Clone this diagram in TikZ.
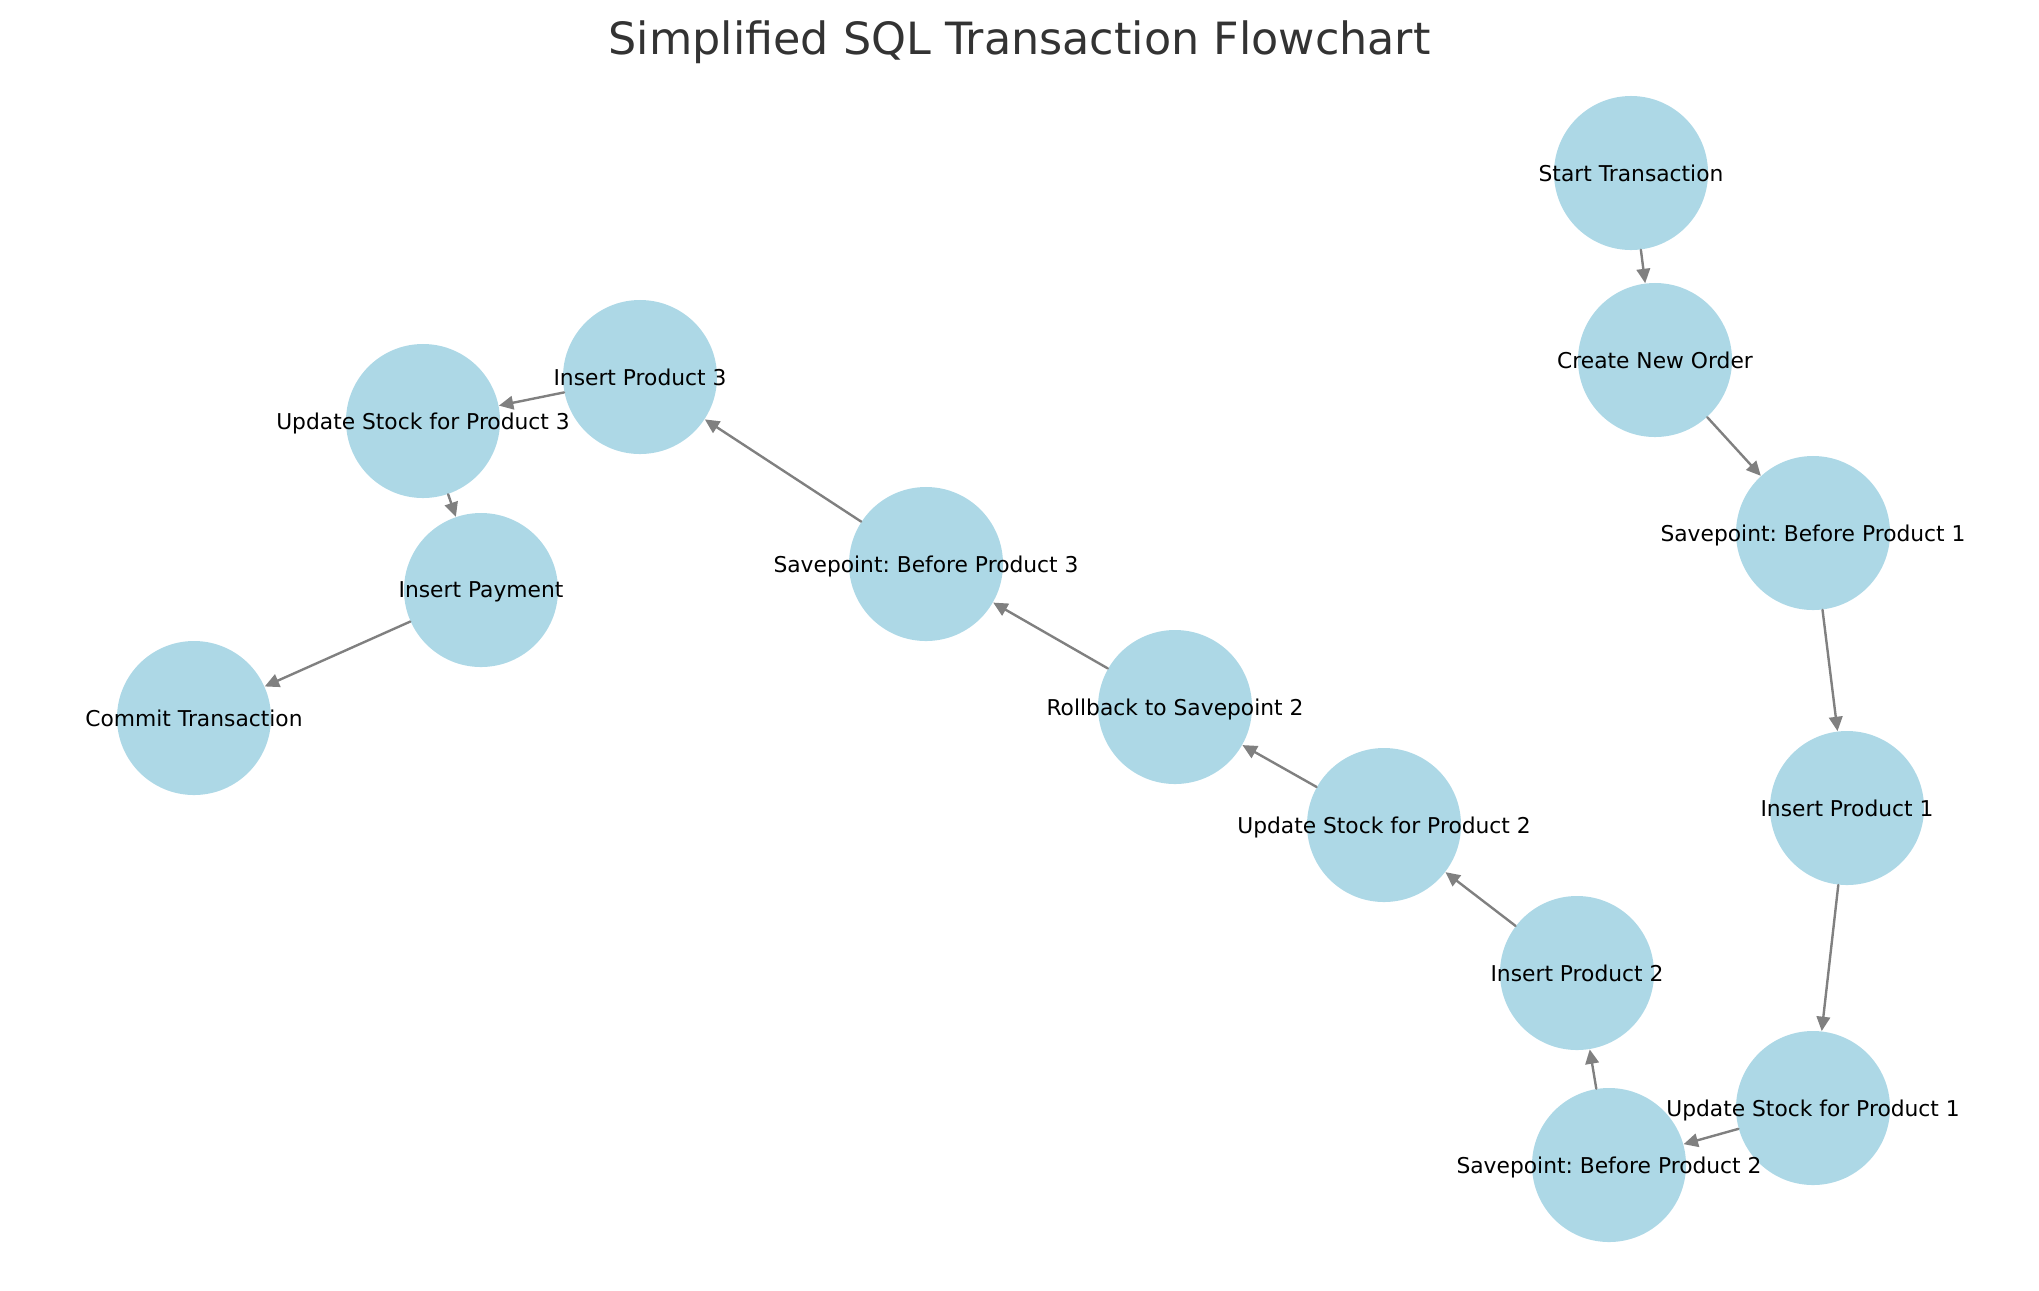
\documentclass[tikz,border=0pt]{standalone}
\usepackage{fontspec}
\setmainfont{DejaVu Sans}
\usepackage{tikz}
\usetikzlibrary{arrows.meta}
\definecolor{stagefill}{RGB}{173,216,230}
\definecolor{titlegray}{RGB}{51,51,51}
\frenchspacing

\begin{document}
\begin{tikzpicture}[x=0.459pt,y=-0.459pt,line cap=round,
    stage/.style={circle,fill=stagefill,minimum size=70.7pt,inner sep=0pt,text depth=0pt,font=\fontsize{10}{12}\selectfont},
    flow/.style={draw=gray,line width=1.1pt,-{Triangle[length=6.6pt,width=6.2pt]}}]
  \useasboundingbox (0,0) rectangle (2039,1290);
  % stages, centres in pixels of the original figure
  \foreach \n/\x/\y/\t in {start/1631/173/Start Transaction,
      order/1655/360/Create New Order,
      spa/1813/533/Savepoint: Before Product 1,
      insa/1847/808/Insert Product 1,
      upda/1813/1108/Update Stock for Product 1,
      spb/1609/1165/Savepoint: Before Product 2,
      insb/1577/973/Insert Product 2,
      updb/1384/825/Update Stock for Product 2,
      back/1175/707/Rollback to Savepoint 2,
      spc/926/564/Savepoint: Before Product 3,
      insc/640/377/Insert Product 3,
      updc/423/421/Update Stock for Product 3,
      pay/481/590/Insert Payment,
      commit/194/718/Commit Transaction}{
    \node[stage] (\n) at (\x,\y) {\makebox[0pt]{\t}};
  }
  \foreach \a/\b in {start/order,order/spa,spa/insa,insa/upda,upda/spb,spb/insb,
      insb/updb,updb/back,back/spc,spc/insc,insc/updc,updc/pay,pay/commit}{
    \draw[flow] (\a) -- (\b);
  }
  \node[anchor=base,text=titlegray,font=\fontsize{20.4}{24}\selectfont] (title) at (1019.5,54) {Simplified SQL Transaction Flowchart};
\end{tikzpicture}
\end{document}
